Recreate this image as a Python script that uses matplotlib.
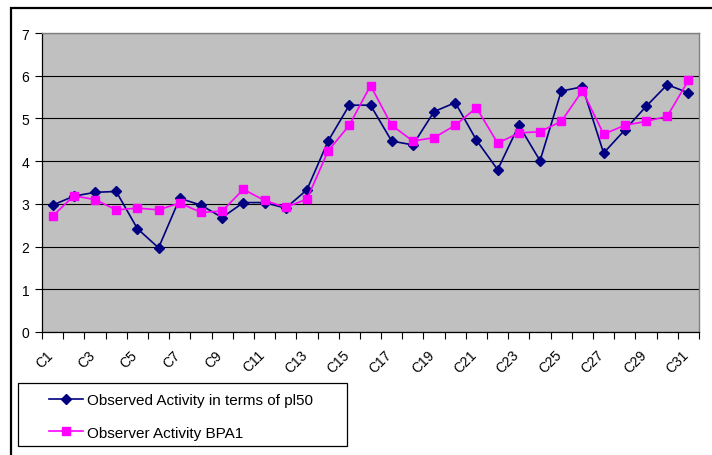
import numpy as np
import matplotlib
matplotlib.use("Agg")
import matplotlib.pyplot as plt
import matplotlib.transforms as mtransforms
from matplotlib.patches import Rectangle

plt.rcParams["font.family"] = ["Liberation Sans", "DejaVu Sans"]

# compound labels and the two activity series
categories = ["C%d" % i for i in range(1, 32)]
observed_pl50 = [2.97, 3.18, 3.27, 3.29, 2.42, 1.97, 3.13, 2.97, 2.68, 3.03,
                 3.03, 2.90, 3.33, 4.47, 5.31, 5.31, 4.47, 4.38, 5.16, 5.37,
                 4.49, 3.80, 4.84, 4.01, 5.64, 5.74, 4.19, 4.73, 5.28, 5.79,
                 5.60]
observer_bpa1 = [2.71, 3.19, 3.10, 2.86, 2.90, 2.86, 3.02, 2.80, 2.83, 3.34,
                 3.08, 2.92, 3.11, 4.24, 4.84, 5.77, 4.84, 4.47, 4.55, 4.84,
                 5.25, 4.42, 4.66, 4.69, 4.93, 5.65, 4.63, 4.84, 4.93, 5.05,
                 5.89]

W, H = 712, 456
fig = plt.figure(figsize=(W / 100, H / 100), dpi=100)
fig.patch.set_facecolor("white")

# outer chart frame
fig.add_artist(Rectangle((11 / W, -0.05), 1.1, 1 - 9 / H + 0.05,
                         transform=fig.transFigure, fill=False,
                         edgecolor="black", linewidth=1.6))

ax = fig.add_axes([42 / W, 1 - 333 / H, (699 - 42) / W, (333 - 34) / H])
ax.set_facecolor("#C0C0C0")

x = np.arange(len(categories))
l1, = ax.plot(x, observed_pl50, color="#000080", lw=1.2, marker="D",
              markersize=5.5, label="Observed Activity in terms of pl50")
l2, = ax.plot(x, observer_bpa1, color="#FF00FF", lw=1.2, marker="s",
              markersize=6, label="Observer Activity BPA1")

ax.set_xlim(-0.5, len(categories) - 0.5)
ax.set_ylim(0, 7)
ax.set_yticks(range(0, 8))
ax.yaxis.grid(True, color="black", lw=0.8)
ax.set_axisbelow(True)

ax.set_xticks(np.arange(-0.5, len(categories), 1.0))
ax.set_xticklabels([])
ax.set_xticks(x[::2], minor=True)
ax.set_xticklabels(categories[::2], minor=True, rotation=45, ha="right",
                   va="top", rotation_mode="anchor", fontsize=10)
ax.tick_params(axis="x", which="major", direction="out", length=5, width=0.8)
ax.tick_params(axis="x", which="minor", length=0, pad=11)
ax.tick_params(axis="y", direction="out", length=5, width=0.8, labelsize=10,
               pad=4)
# nudge the slanted labels left so they sit under their points
shift = mtransforms.ScaledTranslation(-7 / 100, 0, fig.dpi_scale_trans)
for lbl in ax.get_xticklabels(minor=True):
    lbl.set_transform(lbl.get_transform() + shift)

for side in ["left", "bottom"]:
    ax.spines[side].set_color("black")
    ax.spines[side].set_linewidth(0.9)
for side in ["top", "right"]:
    ax.spines[side].set_color("#808080")
    ax.spines[side].set_linewidth(1.0)

# legend box drawn separately, entries indented inside it
fig.add_artist(Rectangle((18 / W, 1 - 447 / H), (347 - 18) / W, (447 - 384) / H,
                         transform=fig.transFigure, fill=False,
                         edgecolor="black", linewidth=0.9))
leg = fig.legend(handles=[l1, l2], loc="upper left",
                 bbox_to_anchor=(49 / W, 1 - 394 / H),
                 fontsize=11, frameon=False, handlelength=2.2,
                 handletextpad=0.3, labelspacing=1.22, borderpad=0,
                 borderaxespad=0, markerscale=0.9)

fig.savefig("out.png", dpi=100)
